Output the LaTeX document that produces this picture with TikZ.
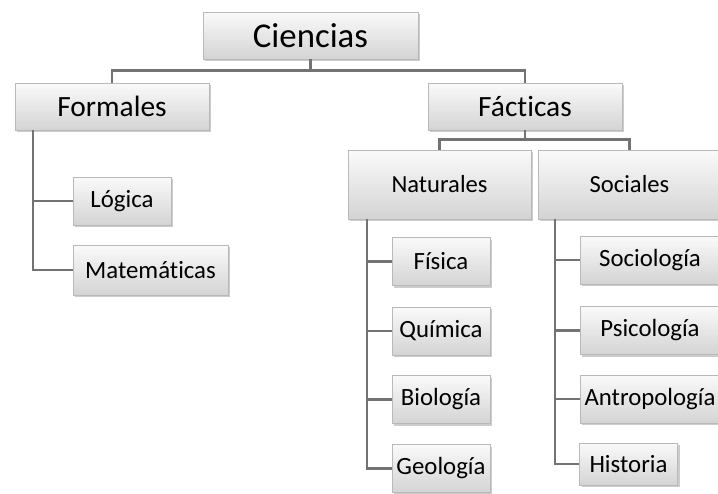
\documentclass[tikz,border=0pt]{standalone}
\usepackage{fontspec}
\setmainfont{Carlito}[Ligatures={NoCommon}]
\usetikzlibrary{shadows,positioning}

\begin{document}
\begin{tikzpicture}[
    x=0.5pt, y=-0.5pt,
    box/.style={rectangle, draw=gray!55, top color=gray!4, bottom color=gray!34, drop shadow={shadow xshift=1.2pt, shadow yshift=-1.2pt, opacity=0.4}, text centered, inner sep=0pt},
    root/.style={box, minimum width=107.5pt, minimum height=23.5pt, font=\fontsize{17.4}{20}\selectfont},
    area/.style={box, minimum width=97pt, minimum height=23.5pt, font=\fontsize{14.7}{17}\selectfont},
    group/.style={box, minimum width=91.5pt, minimum height=34.5pt, font=\fontsize{12.3}{15}\selectfont},
    leaf/.style={box, minimum width=49pt, minimum height=24pt, font=\fontsize{12.4}{15}\selectfont},
    wideleaf/.style={leaf, minimum width=70pt},
    link/.style={draw=black!55, line width=1.1pt}
]
    \useasboundingbox (0,0) rectangle (718,493);

    % Root
    \node[root] (ciencias) at (310.5,35.5) {Ciencias};

    % First level
    \node[area] (formales) at (112,106.5) {Formales};
    \node[area] (facticas) at (525,106.5) {Fácticas};

    % Formales
    \node[leaf] (logica) at (122,201) {Lógica};
    \node[leaf, minimum width=77.5pt, minimum height=25pt] (matematicas) at (150.5,270) {Matemáticas};

    % Fácticas
    \node[group] (naturales) at (439.5,184.5) {Naturales};
    \node[group] (sociales) at (629.5,184.5) {Sociales};

    % Naturales
    \node[leaf] (fisica) at (441,261.5) {Física};
    \node[leaf] (quimica) at (441,331) {Química};
    \node[leaf] (biologia) at (441,399.5) {Biología};
    \node[leaf] (geologia) at (441,468.5) {Geología};

    % Sociales
    \node[wideleaf] (sociologia) at (650,260) {Sociología};
    \node[wideleaf] (psicologia) at (650,330.5) {Psicología};
    \node[wideleaf] (antropologia) at (650,399) {Antropología};
    \node[leaf, minimum height=21pt] (historia) at (628.5,464) {Historia};

    % Connectors
    \coordinate[below=5.5pt of ciencias.south] (bus1);
    \draw[link] (ciencias.south) -- (bus1) -| (formales.north);
    \draw[link] (bus1) -| (facticas.north);

    \coordinate[below=4.5pt of facticas.south] (bus2);
    \draw[link] (facticas.south) -- (bus2) -| (naturales.north);
    \draw[link] (bus2) -| (sociales.north);

    \draw[link] ([xshift=9pt]formales.south west) |- (logica.west);
    \draw[link] ([xshift=9pt]formales.south west) |- (matematicas.west);

    \draw[link] ([xshift=9.5pt]naturales.south west) |- (fisica.west);
    \draw[link] ([xshift=9.5pt]naturales.south west) |- (quimica.west);
    \draw[link] ([xshift=9.5pt]naturales.south west) |- (biologia.west);
    \draw[link] ([xshift=9.5pt]naturales.south west) |- (geologia.west);

    \draw[link] ([xshift=8.5pt]sociales.south west) |- (sociologia.west);
    \draw[link] ([xshift=8.5pt]sociales.south west) |- (psicologia.west);
    \draw[link] ([xshift=8.5pt]sociales.south west) |- (antropologia.west);
    \draw[link] ([xshift=8.5pt]sociales.south west) |- (historia.west);
\end{tikzpicture}
\end{document}
